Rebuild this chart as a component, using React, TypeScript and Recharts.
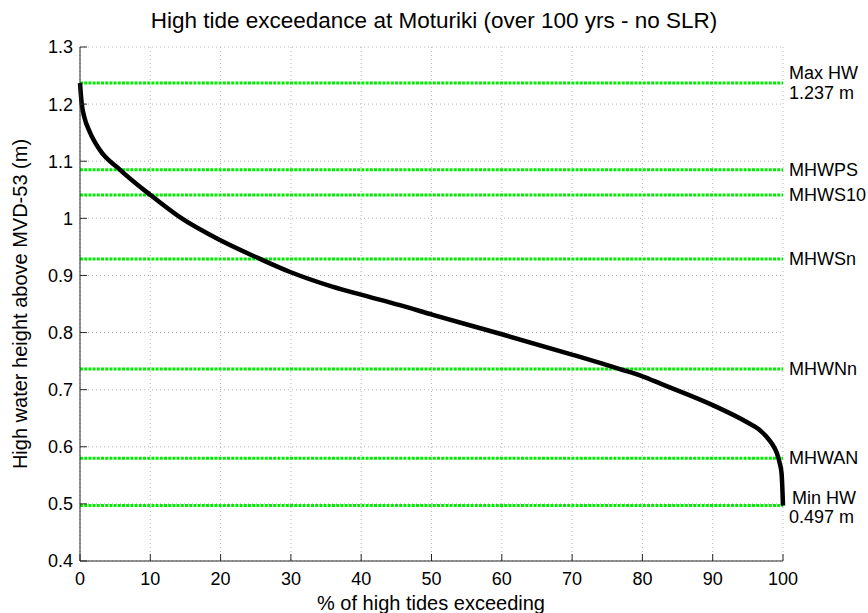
import React from "react";
import { LineChart, Line, XAxis, YAxis, CartesianGrid, ReferenceLine } from "recharts";

// % of high tides exceeding a given height
const exceedPct = [0, 0.1, 0.25, 0.6, 1.4, 2.8, 5.7, 10, 14.2, 19.9, 25.6, 29.9, 36, 40.1, 45.5, 50.2, 60, 70.1, 76.8, 80.1, 82.5, 90, 94.9, 96.5, 97.7, 98.5, 99.1, 99.5, 99.8, 100];
const highWater = [1.237, 1.22, 1.2, 1.178, 1.151, 1.12, 1.085, 1.041, 1.002, 0.962, 0.929, 0.906, 0.88, 0.866, 0.848, 0.831, 0.797, 0.761, 0.736, 0.723, 0.711, 0.673, 0.643, 0.631, 0.617, 0.604, 0.59, 0.573, 0.553, 0.497];

// tidal levels (green dotted lines)
const levelNames = ["Max HW", "MHWPS", "MHWS10", "MHWSn", "MHWNn", "MHWAN", "Min HW"];
const levelValues = [1.237, 1.085, 1.041, 0.929, 0.736, 0.58, 0.497];
const levelNotes = ["1.237 m", "", "", "", "", "", "0.497 m"];

const xTicks = [0, 10, 20, 30, 40, 50, 60, 70, 80, 90, 100];
const yTicks = [0.4, 0.5, 0.6, 0.7, 0.8, 0.9, 1, 1.1, 1.2, 1.3];

const chartData = exceedPct.map((p, i) => ({ pct: p, hw: highWater[i] }));

const FONT = '"Liberation Sans", Arial, Helvetica, sans-serif';
const TICK_FS = 18;
const LABEL_FS = 20;
const AXIS = "#262626";

function LevelLabel(props: any) {
  const { viewBox, name, note } = props;
  if (!viewBox) return null;
  const x = viewBox.x + viewBox.width + 6;
  const y = viewBox.y;
  if (note) {
    const low = name === "Min HW";
    return (
      <text fontFamily={FONT} fontSize={TICK_FS} fill="#000">
        <tspan x={low ? x + 3 : x} y={low ? y - 2 : y - 4}>{name}</tspan>
        <tspan x={x} y={low ? y + 17 : y + 16}>{note}</tspan>
      </text>
    );
  }
  return (
    <text x={x} y={y + 6} fontFamily={FONT} fontSize={TICK_FS} fill="#000">
      {name}
    </text>
  );
}

export default function App() {
  return (
    <div style={{ position: "absolute", left: 0, top: 0, width: 868, height: 613, background: "#fff", fontFamily: FONT }}>
      <div style={{ position: "absolute", left: 0, width: 868, top: 8, textAlign: "center", fontSize: 22.5, lineHeight: "26px", color: "#000" }}>
        High tide exceedance at Moturiki (over 100 yrs - no SLR)
      </div>
      <div
        style={{
          position: "absolute",
          left: 20,
          top: 304,
          transform: "translate(-50%, -50%) rotate(-90deg)",
          whiteSpace: "nowrap",
          fontSize: LABEL_FS,
          lineHeight: "24px",
          color: "#000",
        }}
      >
        High water height above MVD-53 (m)
      </div>
      <div style={{ position: "absolute", left: 0, width: 862, top: 591, textAlign: "center", fontSize: LABEL_FS, lineHeight: "24px", color: "#000" }}>
        % of high tides exceeding
      </div>
      <LineChart
        width={868}
        height={613}
        data={chartData}
        margin={{ top: 47, right: 85, bottom: 22, left: 20 }}
        style={{ position: "absolute", left: 0, top: 0 }}
      >
        <CartesianGrid stroke="#b5b5b5" strokeDasharray="1 3" strokeWidth={1} />
        <XAxis
          dataKey="pct"
          type="number"
          domain={[0, 100]}
          ticks={xTicks}
          height={30}
          stroke={AXIS}
          tickSize={-7}
          tickMargin={18}
          tick={{ fontSize: TICK_FS, fontFamily: FONT, fill: "#000" }}
          interval={0}
        />
        <XAxis
          xAxisId="top"
          orientation="top"
          dataKey="pct"
          type="number"
          domain={[0, 100]}
          ticks={xTicks}
          height={0}
          stroke={AXIS}
          tickSize={-7}
          tick={false}
        />
        <YAxis
          type="number"
          domain={[0.4, 1.3]}
          ticks={yTicks}
          width={60}
          stroke={AXIS}
          tickSize={-7}
          tickMargin={14}
          interval={0}
          tickFormatter={(v: number) => String(Math.round(v * 10) / 10)}
          tick={{ fontSize: TICK_FS, fontFamily: FONT, fill: "#000" }}
        />
        <YAxis
          yAxisId="right"
          orientation="right"
          type="number"
          domain={[0.4, 1.3]}
          ticks={yTicks}
          width={0}
          stroke={AXIS}
          tickSize={-7}
          tick={false}
        />
        {levelValues.map((v, i) => (
          <ReferenceLine
            key={levelNames[i]}
            y={v}
            stroke="#00ee00"
            strokeWidth={3}
            strokeDasharray="3 1.2"
            label={<LevelLabel name={levelNames[i]} note={levelNotes[i]} />}
          />
        ))}
        <Line
          dataKey="hw"
          type="monotone"
          stroke="#000"
          strokeWidth={4.5}
          dot={false}
          isAnimationActive={false}
        />
      </LineChart>
    </div>
  );
}
